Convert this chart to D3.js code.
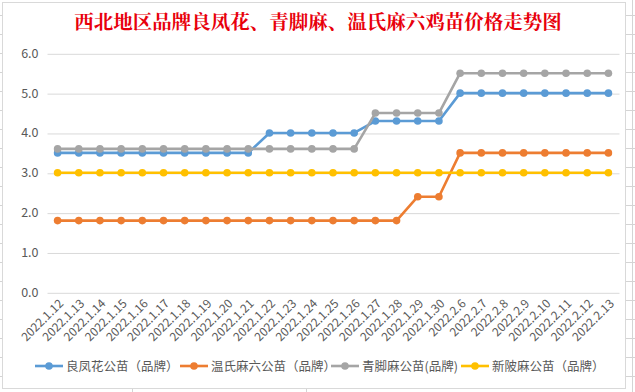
<!DOCTYPE html>
<html>
<head>
<meta charset="utf-8">
<script src="https://cdn.jsdelivr.net/npm/d3@7"></script>
<style>
html,body{margin:0;padding:0;background:#fff;}
svg{display:block;}
</style>
</head>
<body>
<svg id="chart" width="635" height="392"></svg>
<script>
const title = "西北地区品牌良凤花、青脚麻、温氏麻六鸡苗价格走势图";
const categories = ["2022.1.12","2022.1.13","2022.1.14","2022.1.15","2022.1.16","2022.1.17","2022.1.18","2022.1.19","2022.1.20","2022.1.21","2022.1.22","2022.1.23","2022.1.24","2022.1.25","2022.1.26","2022.1.27","2022.1.28","2022.1.29","2022.1.30","2022.2.6","2022.2.7","2022.2.8","2022.2.9","2022.2.10","2022.2.11","2022.2.12","2022.2.13"];
const seriesNames = ["良凤花公苗（品牌）","温氏麻六公苗（品牌）","青脚麻公苗(品牌)","新陂麻公苗（品牌）"];
const seriesColors = ["#5B9BD5","#ED7D31","#A5A5A5","#FFC000"];
const liangfenghua = [3.5,3.5,3.5,3.5,3.5,3.5,3.5,3.5,3.5,3.5,4.0,4.0,4.0,4.0,4.0,4.3,4.3,4.3,4.3,5.0,5.0,5.0,5.0,5.0,5.0,5.0,5.0];
const wenshimaliu = [1.8,1.8,1.8,1.8,1.8,1.8,1.8,1.8,1.8,1.8,1.8,1.8,1.8,1.8,1.8,1.8,1.8,2.4,2.4,3.5,3.5,3.5,3.5,3.5,3.5,3.5,3.5];
const qingjiaoma = [3.6,3.6,3.6,3.6,3.6,3.6,3.6,3.6,3.6,3.6,3.6,3.6,3.6,3.6,3.6,4.5,4.5,4.5,4.5,5.5,5.5,5.5,5.5,5.5,5.5,5.5,5.5];
const xinpima = [3.0,3.0,3.0,3.0,3.0,3.0,3.0,3.0,3.0,3.0,3.0,3.0,3.0,3.0,3.0,3.0,3.0,3.0,3.0,3.0,3.0,3.0,3.0,3.0,3.0,3.0,3.0];
const yTicks = [0,1,2,3,4,5,6];

const seriesValues = [liangfenghua, wenshimaliu, qingjiaoma, xinpima];
// draw order: blue first, then orange, gray, yellow (Excel draws in series order)
const series = seriesNames.map((n,i)=>({name:n,color:seriesColors[i],values:seriesValues[i]}));

const svg = d3.select("#chart");
const font = "'Microsoft YaHei','Noto Sans CJK SC','Noto Sans',sans-serif";

// spreadsheet background lines outside the chart
const bg = svg.append("g").attr("stroke","#d4d4d4").attr("stroke-width",1);
bg.append("line").attr("x1",632.5).attr("x2",632.5).attr("y1",0).attr("y2",392);
[15,34,53,72,91,110,129,148,167,186,205,224,243,262,281,300,319,338,357,376].forEach(y=>{
  bg.append("line").attr("x1",626).attr("x2",635).attr("y1",y+0.5).attr("y2",y+0.5);
  bg.append("line").attr("x1",0).attr("x2",3).attr("y1",y+0.5).attr("y2",y+0.5);
});
[132.5,306.5].forEach(x=>bg.append("line").attr("x1",x).attr("x2",x).attr("y1",388).attr("y2",392));

// chart box
svg.append("rect").attr("x",2.5).attr("y",2.5).attr("width",623).attr("height",386)
  .attr("fill","#fff").attr("stroke","#d9d9d9").attr("stroke-width",1);

// title
svg.append("text").attr("x",318).attr("y",29).attr("text-anchor","middle")
  .attr("fill","#e8000b").attr("font-family","'Noto Serif CJK SC','Noto Sans CJK SC',serif")
  .attr("font-size",19.5).attr("font-weight","bold").text(title);

const x = d3.scalePoint().domain(categories).range([47,619]).padding(0.5);
const y = d3.scaleLinear().domain([0,6]).range([292.3,53.3]);

// y axis (gridlines + labels)
const yAxis = d3.axisLeft(y).tickValues(yTicks).tickFormat(d3.format(".1f")).tickSize(-572).tickPadding(9);
const gy = svg.append("g").attr("transform","translate(47.5,0)").call(yAxis);
gy.select(".domain").remove();
gy.selectAll(".tick line").attr("stroke","#d9d9d9").attr("transform","translate(0,0.5)");
gy.selectAll(".tick text").attr("fill","#595959").attr("font-family",font).attr("font-size",12.5);

// x axis labels
const xAxis = d3.axisBottom(x).tickSize(0).tickPadding(0);
const gx = svg.append("g").attr("transform","translate(0,292.3)").call(xAxis);
gx.select(".domain").remove();
gx.selectAll(".tick text")
  .attr("fill","#595959").attr("font-family",font).attr("font-size",12)
  .attr("text-anchor","end").attr("dy",0).attr("y",0)
  .attr("transform","translate(6,12) rotate(-45)");

// lines
const line = d3.line().x((d,i)=>x(categories[i])).y(d=>y(d));
series.forEach(s=>{
  const g = svg.append("g");
  g.append("path").datum(s.values).attr("d",line).attr("fill","none")
    .attr("stroke",s.color).attr("stroke-width",2.6).attr("stroke-linejoin","round");
  g.selectAll("circle").data(s.values).join("circle")
    .attr("cx",(d,i)=>x(categories[i])).attr("cy",d=>y(d)).attr("r",3.8).attr("fill",s.color);
});

// legend
const legendX = [35,180,331,461];
const lg = svg.append("g").attr("transform","translate(0,366)");
series.forEach((s,i)=>{
  const g = lg.append("g").attr("transform",`translate(${legendX[i]},0)`);
  g.append("line").attr("x1",0).attr("x2",28).attr("y1",0).attr("y2",0).attr("stroke",s.color).attr("stroke-width",2.6);
  g.append("circle").attr("cx",14).attr("cy",0).attr("r",3.8).attr("fill",s.color);
  g.append("text").attr("x",31).attr("y",0).attr("dy","0.36em").attr("fill","#595959")
    .attr("font-family",font).attr("font-size",12.5).text(s.name);
});
</script>
</body>
</html>
